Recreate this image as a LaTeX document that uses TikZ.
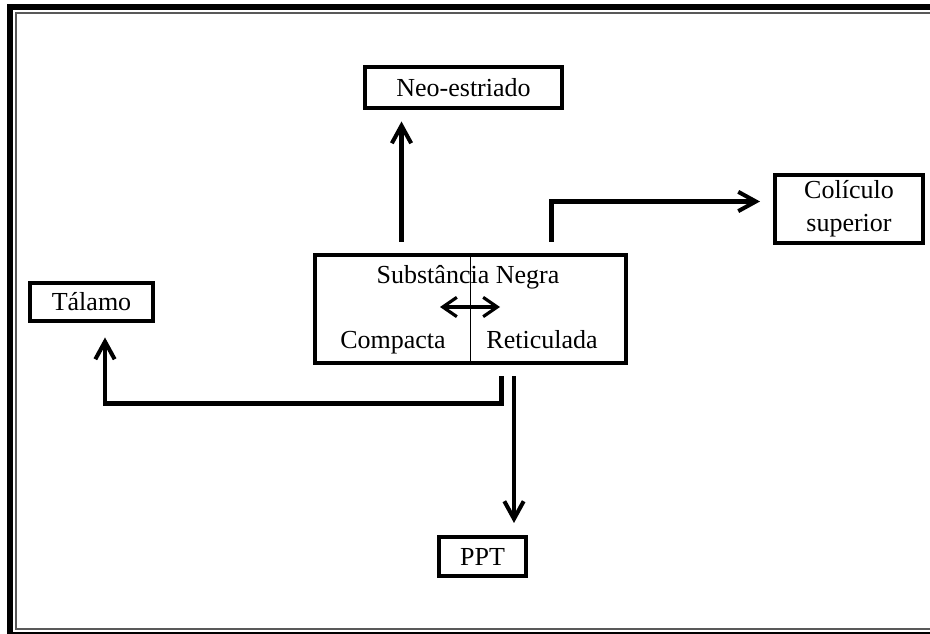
\documentclass[tikz,border=0pt]{standalone}
\usepackage{fontspec}
\setmainfont{Liberation Serif}
\usetikzlibrary{arrows.meta}

\begin{document}
\begin{tikzpicture}[
        >={Straight Barb[length=10pt,width=11pt]},
        every node/.style={font=\fontsize{14.8}{18.8}\selectfont},
        region/.style={draw, line width=2.3pt, outer sep=0pt, inner sep=2pt, align=center},
        part/.style={anchor=base, inner sep=0pt},
        flow/.style={->, line width=2.3pt},
        exchange/.style={<->, line width=1.8pt, >={Straight Barb[length=8pt,width=11pt]}},
    ]

    %Draw the page frame
    \useasboundingbox (0,0) rectangle (18.6,12.68);
    \clip (0,0) rectangle (18.6,12.68);
    \draw [line width=3.4pt] (0.2,-0.02) rectangle (19,12.54);
    \draw [line width=1.4pt, black!65] (0.32,0.1) rectangle (18.9,12.42);

    %Draw the substantia nigra box with its two parts
    \node [region, minimum width=6.22cm, minimum height=2.16cm] (sn) at (9.41,6.5) {};
    \draw [line width=0.75pt] (sn.north) -- (sn.south);
    \node [part] (snname) at (9.36,7.0) {Substância Negra};
    \node [part] (compacta) at (7.86,5.7) {Compacta};
    \node [part] (reticulada) at (10.84,5.7) {Reticulada};
    \coordinate (pcleft) at (8.8,6.54);
    \coordinate (prright) at (10.0,6.54);
    \draw [exchange] (pcleft) -- (prright);

    %Draw the target areas
    \node [region, minimum width=3.94cm, minimum height=0.82cm] (neo) at (9.27,10.93) {Neo-estriado};
    \node [region, minimum width=2.96cm, minimum height=1.36cm] (colliculus) at (16.98,8.5) {Colículo\\superior};
    \node [region, minimum width=2.46cm, minimum height=0.76cm] (thalamus) at (1.83,6.64) {Tálamo};
    \node [region, minimum width=1.74cm, minimum height=0.78cm] (ppt) at (9.65,1.55) {PPT};

    %Draw the outputs of the pars reticulata
    \coordinate (neofoot) at ([xshift=-1.38cm]sn.north);
    \coordinate (colfoot) at ([xshift=1.62cm]sn.north);
    \coordinate (talfoot) at ([xshift=0.62cm]sn.south);
    \coordinate (pptfoot) at ([xshift=0.87cm]sn.south);
    \draw [flow, shorten <=0.26cm, shorten >=0.27cm] (neofoot) -- (neofoot |- neo.south);
    \draw [flow, shorten <=0.26cm, shorten >=0.3cm] (colfoot) |- ([yshift=0.15cm]colliculus.west);
    \draw [flow, shorten <=0.27cm, shorten >=0.33cm] (talfoot) -- ++(0,-0.81) -| ([xshift=0.27cm]thalamus.south);
    \draw [flow, shorten <=0.27cm, shorten >=0.28cm] (pptfoot) -- (pptfoot |- ppt.north);
\end{tikzpicture}
\end{document}
